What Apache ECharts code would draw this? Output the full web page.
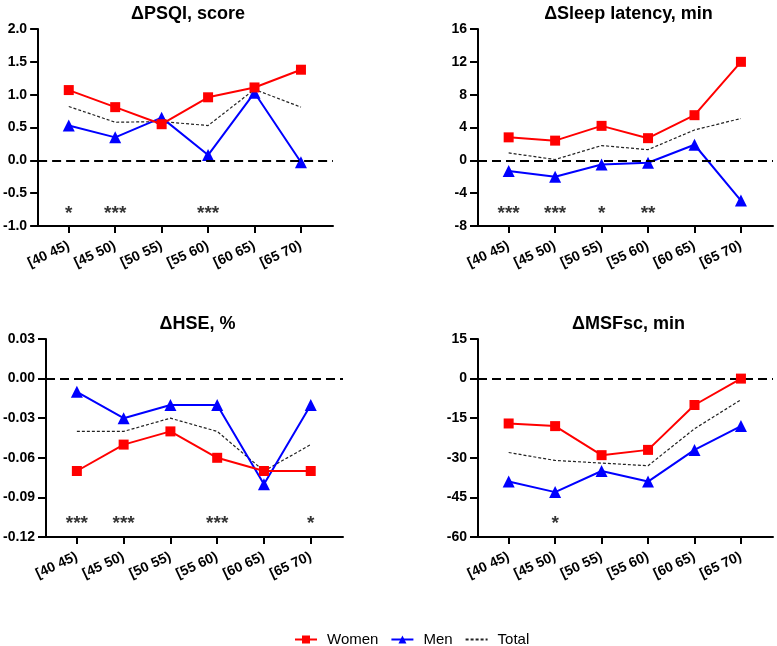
<!DOCTYPE html>
<html>
<head>
<meta charset="utf-8">
<script src="https://cdn.jsdelivr.net/npm/echarts@6/dist/echarts.min.js"></script>
<style>
html,body{margin:0;padding:0;background:#fff;}
#chart{width:777px;height:646px;}
</style>
</head>
<body>
<div id="chart"></div>
<script>
var categories = ['[40 45)', '[45 50)', '[50 55)', '[55 60)', '[60 65)', '[65 70)'];

var psqiWomen = [1.07, 0.81, 0.55, 0.96, 1.11, 1.38];
var psqiMen   = [0.53, 0.35, 0.65, 0.08, 1.03, -0.03];
var psqiTotal = [0.82, 0.58, 0.59, 0.53, 1.08, 0.81];
var psqiSig   = ['*', '***', '', '***', '', ''];
var psqiSigY  = -0.76;

var latWomen = [2.8, 2.4, 4.2, 2.7, 5.5, 12.0];
var latMen   = [-1.3, -2.0, -0.5, -0.3, 1.9, -4.9];
var latTotal = [0.9, 0.1, 1.8, 1.3, 3.7, 5.1];
var latSig   = ['***', '***', '*', '**', '', ''];
var latSigY  = -6;

var hseWomen = [-0.07, -0.05, -0.04, -0.06, -0.07, -0.07];
var hseMen   = [-0.01, -0.03, -0.02, -0.02, -0.08, -0.02];
var hseTotal = [-0.04, -0.04, -0.03, -0.04, -0.07, -0.05];
var hseSig   = ['***', '***', '', '***', '', '*'];
var hseSigY  = -0.107;

var msfWomen = [-17, -18, -29, -27, -10, 0];
var msfMen   = [-39, -43, -35, -39, -27, -18];
var msfTotal = [-28, -31, -32, -33, -19, -8];
var msfSig   = ['', '*', '', '', '', ''];
var msfSigY  = -53.5;

var titles = ['\u0394PSQI, score', '\u0394Sleep latency, min', '\u0394HSE, %', '\u0394MSFsc, min'];
var yMin = [-1, -8, -0.12, -60];
var yMax = [2, 16, 0.03, 15];
var yStep = [0.5, 4, 0.03, 15];
var yDecimals = [1, 0, 2, 0];

var panels = [
  {women: psqiWomen, men: psqiMen, total: psqiTotal, sig: psqiSig, sigY: psqiSigY},
  {women: latWomen, men: latMen, total: latTotal, sig: latSig, sigY: latSigY},
  {women: hseWomen, men: hseMen, total: hseTotal, sig: hseSig, sigY: hseSigY},
  {women: msfWomen, men: msfMen, total: msfTotal, sig: msfSig, sigY: msfSigY}
];

var grids = [
  {left: 37, top: 29, width: 296, height: 197},
  {left: 478, top: 29, width: 295, height: 197},
  {left: 46, top: 339, width: 297, height: 198},
  {left: 478, top: 339, width: 295, height: 198}
];

var FONT = 'Liberation Sans, Arial, sans-serif';
var catIdx = categories.map(function (c, i) { return i; });

function pairs(arr) { return arr.map(function (v, i) { return [i, v]; }); }

var xAxes = [], yAxes = [], series = [], titleArr = [];
grids.forEach(function (g, k) {
  titleArr.push({
    text: titles[k],
    left: g.left + g.width / 2 - 2,
    top: k < 2 ? 0 : 310,
    textAlign: 'center',
    textStyle: {fontFamily: FONT, fontWeight: 'bold', fontSize: 18, color: '#000'}
  });
  xAxes.push({
    type: 'value', gridIndex: k, min: -0.66, max: 5.69,
    splitLine: {show: false},
    axisLine: {show: true, onZero: false, lineStyle: {color: '#000', width: 2}},
    axisTick: {show: true, length: 7, lineStyle: {color: '#000', width: 2}, customValues: catIdx},
    axisLabel: {
      customValues: catIdx, rotate: 25, margin: 19,
      fontFamily: FONT, fontWeight: 'bold', fontSize: 14, color: '#000',
      formatter: function (v) { return categories[Math.round(v)]; }
    }
  });
  yAxes.push({
    type: 'value', gridIndex: k, min: yMin[k], max: yMax[k], interval: yStep[k],
    splitLine: {show: false},
    axisLine: {show: true, onZero: false, lineStyle: {color: '#000', width: 2}},
    axisTick: {show: true, length: 8, lineStyle: {color: '#000', width: 2}},
    axisLabel: {
      margin: 11, fontFamily: FONT, fontWeight: 'bold', fontSize: 14, color: '#000',
      formatter: (function (d) { return function (v) { return Number(v).toFixed(d); }; })(yDecimals[k])
    }
  });
  var p = panels[k];
  series.push({
    name: 'Total', type: 'line', xAxisIndex: k, yAxisIndex: k,
    data: pairs(p.total), symbol: 'none', silent: true,
    lineStyle: {color: '#222', width: 1.2, type: [3, 2]},
    itemStyle: {color: '#222'},
    markLine: {
      silent: true, symbol: 'none', label: {show: false},
      lineStyle: {color: '#000', width: 2, type: [9, 5]},
      data: [{yAxis: 0}]
    },
    z: 3
  });
  series.push({
    name: 'Men', type: 'line', xAxisIndex: k, yAxisIndex: k,
    data: pairs(p.men), symbol: 'triangle', symbolSize: 12,
    lineStyle: {color: '#0000ff', width: 2},
    itemStyle: {color: '#0000ff'},
    z: 4
  });
  series.push({
    name: 'Women', type: 'line', xAxisIndex: k, yAxisIndex: k,
    data: pairs(p.women), symbol: 'rect', symbolSize: 10,
    lineStyle: {color: '#ff0000', width: 2},
    itemStyle: {color: '#ff0000'},
    z: 5
  });
  series.push({
    name: 'sig', type: 'scatter', xAxisIndex: k, yAxisIndex: k,
    data: p.sig.map(function (s, i) { return {value: [i, p.sigY], sig: s}; }),
    symbolSize: 0, silent: true,
    label: {
      show: true, position: 'inside', offset: [0, 4],
      fontFamily: FONT, fontWeight: 'bold', fontSize: 19, color: '#000',
      formatter: function (pr) { return pr.data.sig; }
    }
  });
});

var chart = echarts.init(document.getElementById('chart'), null, {renderer: 'canvas'});
chart.setOption({
  backgroundColor: '#fff',
  animation: false,
  title: titleArr,
  grid: grids,
  xAxis: xAxes,
  yAxis: yAxes,
  legend: {
    data: ['Women', 'Men', {name: 'Total', itemStyle: {opacity: 0}}],
    left: 289, top: 627,
    itemWidth: 22, itemHeight: 10, itemGap: 12,
    textStyle: {fontFamily: FONT, fontSize: 15, color: '#000', padding: [0, 0, 0, 5]}
  },
  series: series
});
</script>
</body>
</html>
